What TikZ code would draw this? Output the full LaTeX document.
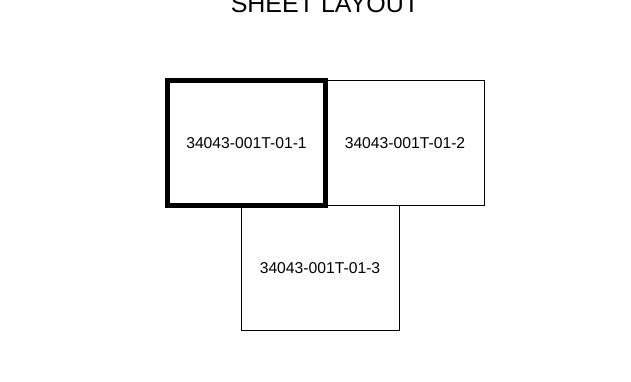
\documentclass[tikz,border=0pt]{standalone}
\usepackage{fontspec}
\setmainfont{Liberation Sans}
\begin{document}
\begin{tikzpicture}[x=1pt,y=-1pt,
  sheet/.style={draw=black,rectangle,inner sep=0pt,outer sep=0pt,minimum width=158pt,minimum height=125pt,font=\fontsize{15.7}{18}\selectfont,line width=1pt},
  current/.style={sheet,line width=4.5pt},
  title/.style={font=\fontsize{25}{30}\selectfont,anchor=base}]
\useasboundingbox (0,0) rectangle (631,382);
\node[title] (t) at (325,12.3) {SHEET LAYOUT};
\node[sheet] (s2) at (405,142.8) {34043-001T-01-2};
\node[sheet] (s3) at (320,268) {34043-001T-01-3};
\node[current] (s1) at (246.5,142.8) {34043-001T-01-1};
\end{tikzpicture}
\end{document}
